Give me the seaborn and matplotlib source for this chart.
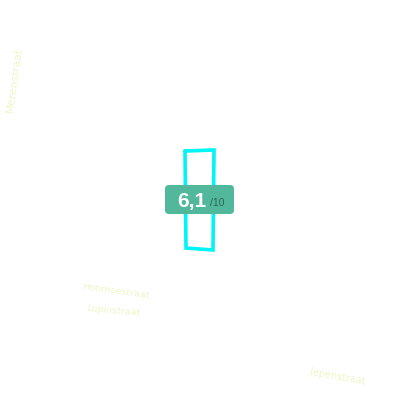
import matplotlib
matplotlib.use("Agg")
import matplotlib.pyplot as plt
import seaborn as sns
import pandas as pd
from matplotlib.patches import FancyBboxPatch

# Data: parcel outline (pixel-space map coordinates), score, street labels
outline_x = [185, 214, 213, 186, 185]
outline_y = [151, 150, 250, 248, 151]
score = 6.1
score_max = 10
street_names = ["Merenstraat", "Hoornsestraat", "Lupinstraat", "Iepenstraat"]
street_x = [14, 116, 113, 338]
street_y = [80, 291, 311, 377]
street_rot = [82, -8, -5, -10]
street_size = [7.8, 6.8, 6.8, 7.0]

sns.set_theme(style="white")
plt.rcParams["font.family"] = ["Liberation Sans", "DejaVu Sans"]
fig = plt.figure(figsize=(4, 4), dpi=100)
ax = fig.add_axes([0, 0, 1, 1])

df = pd.DataFrame({"x": outline_x, "y": outline_y})
sns.lineplot(data=df, x="x", y="y", sort=False, estimator=None, color="#00f5f5",
             linewidth=2.6, ax=ax, solid_joinstyle="miter")
ax.set_xlim(0, 400)
ax.set_ylim(400, 0)
ax.axis("off")

for name, x, y, r, s in zip(street_names, street_x, street_y, street_rot, street_size):
    ax.text(x, y, name, rotation=r, ha="center", va="center", fontsize=s,
            color="#eff6c8", rotation_mode="anchor", family="DejaVu Sans")

cx = sum(outline_x[:4]) / 4
badge = FancyBboxPatch((cx - 34.5, 185), 69, 29,
                       boxstyle="round,pad=0,rounding_size=4",
                       facecolor="#52b89b", edgecolor="none", zorder=5)
ax.add_patch(badge)
score_txt = f"{score:.1f}".replace(".", ",")
ax.text(cx + 6.5, 201, score_txt, ha="right", va="center", fontsize=15,
        fontweight="bold", color="white", zorder=6)
ax.text(cx + 11, 202.5, f"/{score_max}", ha="left", va="center", fontsize=7.5,
        color="#2b6656", zorder=6)

fig.savefig("out.png", dpi=100, facecolor="white")
